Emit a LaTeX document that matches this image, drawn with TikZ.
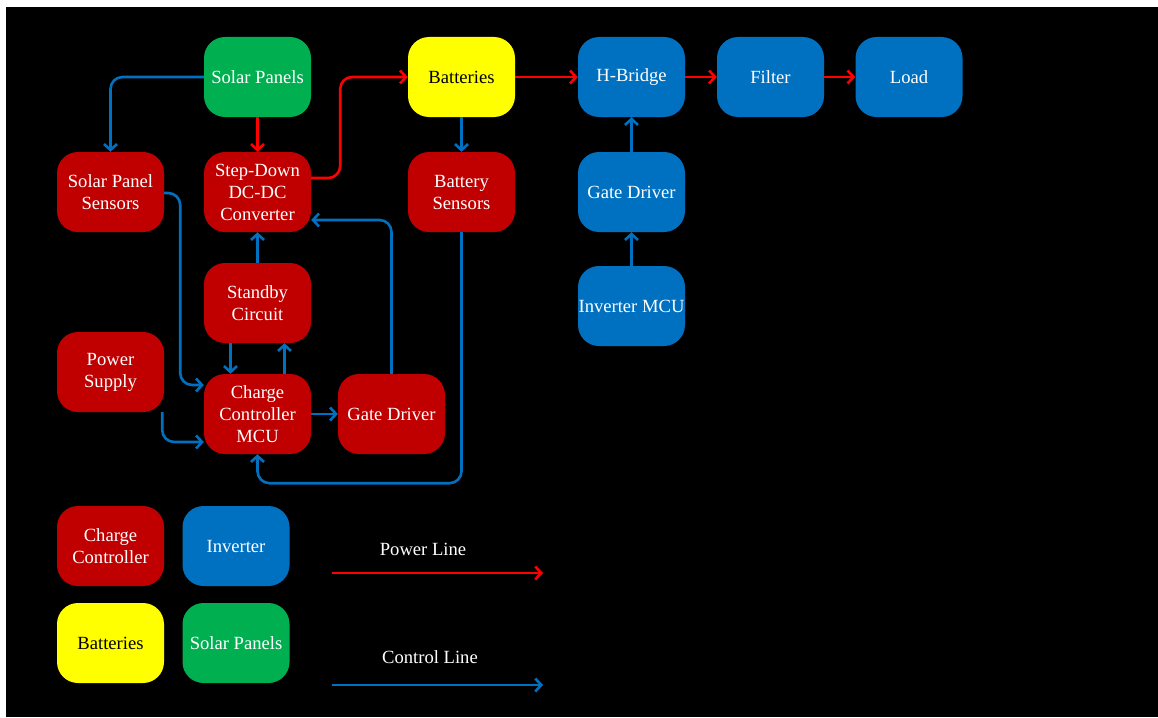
\documentclass[tikz,border=0pt]{standalone}
\usepackage{fontspec}
\setmainfont{Liberation Serif}
\usetikzlibrary{arrows.meta}
\definecolor{ccred}{HTML}{C00000}
\definecolor{invblue}{HTML}{0070C0}
\definecolor{batyel}{HTML}{FFFF00}
\definecolor{solgreen}{HTML}{00B050}
\definecolor{pwred}{HTML}{FF0000}
\tikzset{
  box/.style={draw=none, rounded corners=21pt, minimum width=107pt, minimum height=80pt,
    align=center, text=white, font=\fontsize{18.6}{22}\selectfont, inner sep=0pt},
  cc/.style={box, fill=ccred},
  inv/.style={box, fill=invblue},
  batt/.style={box, fill=batyel, text=black},
  sol/.style={box, fill=solgreen},
  conn/.style={line width=2.6pt, rounded corners=12pt, -{Straight Barb[length=6pt,width=13pt,line width=2.6pt]}},
  pw/.style={conn, draw=pwred},
  ct/.style={conn, draw=invblue},
  lbl/.style={text=white, font=\fontsize{18.6}{22}\selectfont}
}
\begin{document}
\begin{tikzpicture}[x=1pt,y=-1pt]
\fill[white] (0,0) rectangle (1158,717);
\fill[black] (6,7) rectangle (1158,717);
\useasboundingbox (0,0) rectangle (1158,717);

% top row
\node[sol] (sp) at (257.5,77) {Solar Panels};
\node[batt] (bat) at (461.5,77) {Batteries};
\node[inv] (hb) at (631.5,77) {H-Bridge};
\node[inv] (flt) at (770.5,77) {Filter};
\node[inv] (load) at (909,77) {Load};
% second row
\node[cc] (sps) at (110.5,192) {Solar Panel\\Sensors};
\node[cc] (sd) at (257.5,192) {Step-Down\\DC-DC\\Converter};
\node[cc] (bs) at (461.5,192) {Battery\\Sensors};
\node[inv] (gdb) at (631.5,192) {Gate Driver};
% third
\node[cc] (sb) at (257.5,303) {Standby\\Circuit};
\node[inv] (im) at (631.5,306) {Inverter MCU};
\node[cc] (ps) at (110.5,372) {Power\\Supply};
\node[cc] (mcu) at (257.5,414) {Charge\\Controller\\MCU};
\node[cc] (gdr) at (391.5,414) {Gate Driver};

% power lines
\draw[pw] (sp) -- (sd);
\draw[pw] ([yshift=14pt]sd.east) -- ++(29,0) |- (bat.west);
\draw[pw] (bat) -- (hb);
\draw[pw] (hb) -- (flt);
\draw[pw] (flt) -- (load);

% control lines
\draw[ct] (sp.west) -| (sps.north);
\draw[ct] (bat) -- (bs);
\draw[ct] ([yshift=-1pt]sps.east) -- ++(16,0) |- ([yshift=29pt]mcu.west);
\draw[ct] ([xshift=-2pt]ps.south east) |- ([yshift=-28pt]mcu.west);
\draw[ct] ([xshift=-27pt]sb.south) -- ([xshift=-27pt]mcu.north);
\draw[ct] ([xshift=27pt]mcu.north) -- ([xshift=27pt]sb.south);
\draw[ct] (sb) -- (sd);
\draw[ct] (mcu) -- (gdr);
\draw[ct] (gdr.north) |- ([yshift=-28pt]sd.east);
\draw[ct] (bs.south) -- ++(0,251) -| (mcu.south);
\draw[ct] (im) -- (gdb);
\draw[ct] (gdb) -- (hb);

% legend
\node[cc] (lcc) at (110.5,546) {Charge\\Controller};
\node[inv] (linv) at (236,546) {Inverter};
\node[batt] (lbat) at (110.5,643) {Batteries};
\node[sol] (lsol) at (236,643) {Solar Panels};
\node[lbl] (plbl) at (423,549) {Power Line};
\node[lbl] (clbl) at (430,657) {Control Line};
\coordinate (p1) at (332,573);
\coordinate (p2) at (543,573);
\coordinate (c1) at (332,685);
\coordinate (c2) at (543,685);
\draw[pw] (p1) -- (p2);
\draw[ct] (c1) -- (c2);
\end{tikzpicture}
\end{document}
